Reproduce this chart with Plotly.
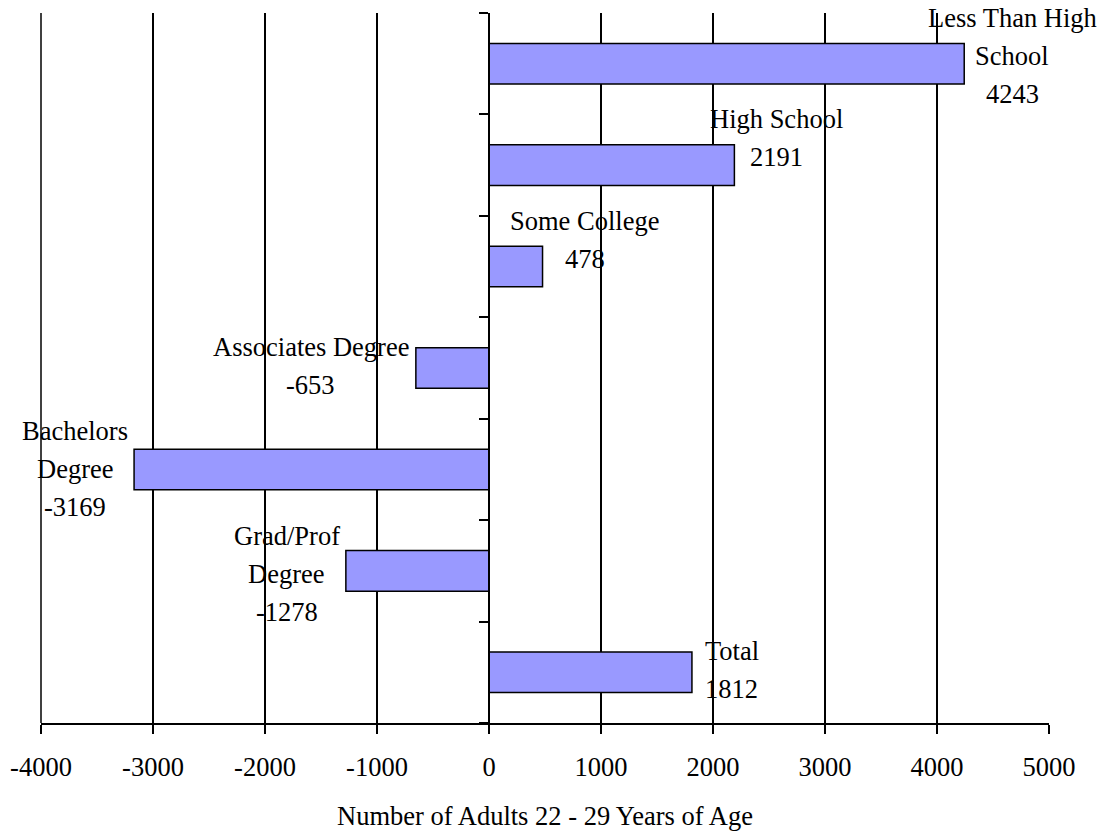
import plotly.graph_objects as go

# Change in number of adults aged 22-29 by education level
categories = [
    "Less Than High School",
    "High School",
    "Some College",
    "Associates Degree",
    "Bachelors Degree",
    "Grad/Prof Degree",
    "Total",
]
# category names as they wrap in the data labels
label_names = [
    ["Less Than High", "School"],
    ["High School"],
    ["Some College"],
    ["Associates Degree"],
    ["Bachelors", "Degree"],
    ["Grad/Prof", "Degree"],
    ["Total"],
]
values = [4243, 2191, 478, -653, -3169, -1278, 1812]

x_ticks = [-4000, -3000, -2000, -1000, 0, 1000, 2000, 3000, 4000, 5000]
x_title = "Number of Adults 22 - 29 Years of Age"

# label placement in pixels: (centre offset from bar end, first-baseline offset from bar centre)
label_offsets = [(48, -36), (42, -36), (42, -36), (-105, -11), (-59, -28), (-59, -25), (40, -11)]
LINE_STEP = 38

FONT = "Liberation Serif"
FS = 26.5
BAR_COLOR = "#9999FF"

x_min, x_max = x_ticks[0], x_ticks[-1]
pos = list(range(len(categories)))

fig = go.Figure()
fig.add_trace(
    go.Bar(
        x=values,
        y=pos,
        orientation="h",
        width=0.4,
        marker=dict(color=BAR_COLOR, line=dict(color="black", width=1.5)),
        hovertext=categories,
        showlegend=False,
    )
)

annotations = []
for i, (names, v) in enumerate(zip(label_names, values)):
    dx, dy = label_offsets[i]
    lines = names + [str(v)]
    for k, line in enumerate(lines):
        baseline = dy + k * LINE_STEP
        annotations.append(
            dict(
                x=v,
                y=i,
                xref="x",
                yref="y",
                text=line,
                showarrow=False,
                xanchor="center",
                yanchor="middle",
                xshift=dx,
                yshift=-(baseline - 10),
                font=dict(family=FONT, size=FS, color="black"),
            )
        )

fig.update_layout(
    width=1099,
    height=831,
    margin=dict(l=41, r=50, t=13, b=108),
    paper_bgcolor="white",
    plot_bgcolor="white",
    font=dict(family=FONT, size=FS, color="black"),
    annotations=annotations,
    bargap=0.6,
)

# the left-most gridline sits on the plot edge, so draw it along the plot's left side
fig.add_shape(
    type="line", xref="paper", yref="paper", x0=0, x1=0, y0=0, y1=1,
    line=dict(color="black", width=1.5), layer="below",
)

fig.update_xaxes(
    range=[x_min, x_max],
    automargin=False,
    tickmode="array",
    tickvals=x_ticks,
    ticktext=[str(t) for t in x_ticks],
    showgrid=True,
    gridcolor="black",
    gridwidth=1.5,
    zeroline=False,
    showline=True,
    linecolor="black",
    linewidth=1.5,
    ticks="outside",
    ticklen=9,
    tickwidth=1.5,
    tickcolor="black",
    ticklabelstandoff=10,
    tickfont=dict(family=FONT, size=FS, color="black"),
    title=dict(text=x_title, font=dict(family=FONT, size=FS, color="black"), standoff=26),
)

# category axis drawn through zero, with tick marks between categories
boundaries = [p - 0.5 for p in pos] + [pos[-1] + 0.5]
fig.update_yaxes(
    range=[pos[-1] + 0.5, pos[0] - 0.5],
    anchor="free",
    automargin=False,
    position=(0 - x_min) / (x_max - x_min),
    tickmode="array",
    tickvals=boundaries,
    showticklabels=False,
    showgrid=False,
    zeroline=False,
    showline=True,
    linecolor="black",
    linewidth=1.5,
    ticks="outside",
    ticklen=9,
    tickwidth=1.5,
    tickcolor="black",
)

fig.write_html("out.html")
